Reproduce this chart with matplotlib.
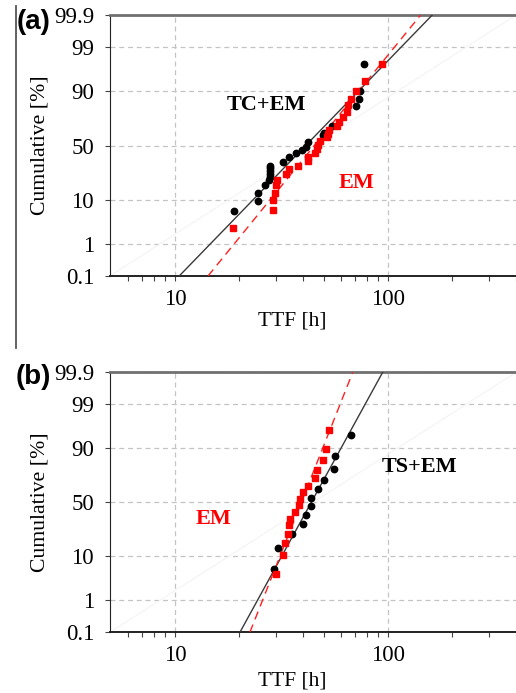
import math
import numpy as np
import matplotlib
matplotlib.use('Agg')
import matplotlib.pyplot as plt
from matplotlib.lines import Line2D
from matplotlib.ticker import FixedLocator, FixedFormatter, NullLocator, NullFormatter

plt.rcParams['font.family'] = ['Liberation Serif', 'DejaVu Serif']

# ---- data ----
# panel (a)
ttf_a_tcem = [18.9, 24.5, 24.5, 26.5, 27.8, 28.0, 28.0, 28.0, 28.0, 28.0, 32.3, 34.2,
              37.2, 39.4, 41.3, 42.4, 49.5, 50.2, 54.9, 71.3, 73.3, 74.1, 77.4]
cum_a_tcem = [6.1, 9.6, 13.2, 17.3, 20.7, 23.0, 25.0, 27.3, 29.5, 31.4, 35.2, 39.3,
              42.5, 45.7, 48.9, 53.3, 59.4, 61.6, 68.2, 82.5, 86.3, 90.2, 97.3]
ttf_a_em = [18.8, 28.8, 29.0, 29.5, 29.85, 30.2, 33.1, 34.4, 37.9, 42.4, 42.4, 45.5,
            46.4, 47.2, 48.1, 51.7, 52.6, 53.2, 57.9, 59.2, 61.8, 64.1, 65.3, 67.2,
            71.2, 77.8, 93.7]
cum_a_em = [2.6, 6.2, 9.7, 13.2, 17.3, 20.7, 25.0, 28.6, 31.6, 35.4, 39.3, 43.4,
            46.9, 50.5, 54.0, 58.0, 60.7, 64.3, 67.8, 70.7, 75.2, 78.8, 83.1, 86.3,
            90.3, 93.7, 97.3]
fit_a_tcem = [10.47, 162.0]   # TTF at 0.1 % and 99.9 %
fit_a_em = [14.3, 142.9]

# panel (b)
ttf_b_tsem = [29.3, 30.5, 35.6, 40.1, 41.1, 43.4, 43.6, 47.2, 50.2, 56.1, 56.5, 67.2]
cum_b_tsem = [5.6, 13.9, 22.3, 30.0, 38.1, 46.8, 53.6, 62.4, 70.4, 78.4, 86.5, 94.4]
ttf_b_em = [29.85, 32.1, 32.9, 33.9, 34.5, 34.9, 36.8, 38.4, 38.7, 40.0, 42.0, 45.3,
            46.4, 49.4, 51.3, 53.0]
cum_b_em = [4.35, 10.5, 16.7, 22.6, 29.1, 35.0, 40.9, 47.0, 52.7, 59.7, 65.1, 71.6,
            77.9, 84.0, 89.95, 95.7]
fit_b_tsem = [20.2, 94.7]
fit_b_em = [22.5, 68.5]

fit_cum = [0.1, 99.9]
ytick_vals = [0.1, 1, 10, 50, 90, 99, 99.9]
ytick_labels = ['0.1', '1', '10', '50', '90', '99', '99.9']


# ---- normal probability scale ----
_a = [-3.969683028665376e+01, 2.209460984245205e+02, -2.759285104469687e+02,
      1.383577518672690e+02, -3.066479806614716e+01, 2.506628277459239e+00]
_b = [-5.447609879822406e+01, 1.615858368580409e+02, -1.556989798598866e+02,
      6.680131188771972e+01, -1.328068155288572e+01]
_c = [-7.784894002430293e-03, -3.223964580411365e-01, -2.400758277161838e+00,
      -2.549732539343734e+00, 4.374664141464968e+00, 2.938163982698783e+00]
_d = [7.784695709041462e-03, 3.224671290700398e-01, 2.445134137142996e+00,
      3.754408661907416e+00]


def ppf(p):
    p = np.clip(np.asarray(p, dtype=float), 1e-10, 1 - 1e-10)
    out = np.empty_like(p)
    lo = p < 0.02425
    hi = p > 1 - 0.02425
    mid = ~(lo | hi)
    q = np.sqrt(-2 * np.log(p[lo]))
    out[lo] = ((((( _c[0]*q+_c[1])*q+_c[2])*q+_c[3])*q+_c[4])*q+_c[5]) / \
              ((((_d[0]*q+_d[1])*q+_d[2])*q+_d[3])*q+1)
    q = np.sqrt(-2 * np.log(1 - p[hi]))
    out[hi] = -((((( _c[0]*q+_c[1])*q+_c[2])*q+_c[3])*q+_c[4])*q+_c[5]) / \
               ((((_d[0]*q+_d[1])*q+_d[2])*q+_d[3])*q+1)
    q = p[mid] - 0.5
    r = q * q
    out[mid] = (((((_a[0]*r+_a[1])*r+_a[2])*r+_a[3])*r+_a[4])*r+_a[5])*q / \
               (((((_b[0]*r+_b[1])*r+_b[2])*r+_b[3])*r+_b[4])*r+1)
    return out


_erf = np.vectorize(math.erf)


def fwd(pct):
    return ppf(np.asarray(pct, dtype=float) / 100.0)


def inv(z):
    return 50.0 * (1 + _erf(np.asarray(z, dtype=float) / math.sqrt(2)))


def make_panel(ax, ttf_k, cum_k, ttf_r, cum_r, fit_k, fit_r, label_k, pos_k, pos_r, xlab_y):
    ax.set_xscale('log')
    ax.set_yscale('function', functions=(fwd, inv))
    ax.set_xlim(4.95, 401)
    ax.set_ylim(0.1, 99.9)

    # faint reference diagonal
    ax.plot([0, 1], [0, 1], transform=ax.transAxes, color='#f4f4f4', lw=0.8, zorder=1)

    for v in ytick_vals:
        ax.axhline(v, color='#c4c4c4', lw=0.9, ls=(0, (4, 3)), zorder=0)
    for v in [10, 100]:
        ax.axvline(v, color='#c4c4c4', lw=0.9, ls=(0, (4, 3)), zorder=0)

    ax.plot(fit_k, fit_cum, color='#3a3a3a', lw=1.0, zorder=3)
    ax.plot(fit_r, fit_cum, color='#ff2020', lw=1.0, ls=(0, (6, 4)), zorder=3)
    ax.plot(ttf_k, cum_k, 'o', color='black', ms=4.6, zorder=4)
    ax.plot(ttf_r, cum_r, 's', color='#ff0000', ms=4.6, zorder=5)

    ax.yaxis.set_major_locator(FixedLocator(ytick_vals))
    ax.yaxis.set_major_formatter(FixedFormatter(ytick_labels))
    ax.yaxis.set_minor_locator(NullLocator())
    ax.xaxis.set_major_locator(FixedLocator([10, 100]))
    ax.xaxis.set_major_formatter(FixedFormatter(['10', '100']))
    ax.xaxis.set_minor_locator(FixedLocator([6, 7, 8, 9, 20, 30, 40, 50, 60, 70, 80, 90,
                                             200, 300, 400]))
    ax.xaxis.set_minor_formatter(NullFormatter())
    ax.tick_params(axis='both', which='both', direction='out', labelsize=16.5,
                   length=3.5, width=0.8, color='#444444', pad=6)
    ax.tick_params(axis='y', pad=8)

    ax.spines['right'].set_visible(False)
    ax.spines['top'].set_color('#707070')
    ax.spines['top'].set_linewidth(2.0)
    ax.spines['left'].set_color('#222222')
    ax.spines['bottom'].set_color('#222222')
    ax.spines['bottom'].set_linewidth(1.4)

    ax.set_ylabel('Cumulative [%]', fontsize=15.7)
    ax.yaxis.set_label_coords(-0.15, 0.5)
    ax.set_xlabel('TTF [h]', fontsize=15.5)
    ax.xaxis.set_label_coords(0.45, xlab_y)

    ax.text(pos_k[0], pos_k[1], label_k, transform=ax.transAxes, ha='center', va='center',
            fontsize=16, weight='bold', color='black')
    ax.text(pos_r[0], pos_r[1], 'EM', transform=ax.transAxes, ha='center', va='center',
            fontsize=16, weight='bold', color='#ff0000')


fig = plt.figure(figsize=(5.16, 6.93), dpi=100)
ax_a = fig.add_axes([110 / 516, (693 - 276) / 693, 406 / 516, 261 / 693])
ax_b = fig.add_axes([110 / 516, (693 - 632.3) / 693, 406 / 516, 260 / 693])

make_panel(ax_a, ttf_a_tcem, cum_a_tcem, ttf_a_em, cum_a_em, fit_a_tcem, fit_a_em,
           'TC+EM', (0.384, 0.655), (0.608, 0.356), -0.135)
make_panel(ax_b, ttf_b_tsem, cum_b_tsem, ttf_b_em, cum_b_em, fit_b_tsem, fit_b_em,
           'TS+EM', (0.762, 0.637), (0.254, 0.436), -0.15)

fig.text(34 / 516, 1 - 22 / 693, '(a)', ha='center', va='center', fontsize=20,
         weight='bold', family='Liberation Sans')
fig.text(33 / 516, 1 - 377 / 693, '(b)', ha='center', va='center', fontsize=20,
         weight='bold', family='Liberation Sans')
fig.add_artist(Line2D([16 / 516, 16 / 516], [1 - 6 / 693, 1 - 348 / 693],
                      color='#555555', lw=1.3))

fig.savefig('out.png', dpi=100)
